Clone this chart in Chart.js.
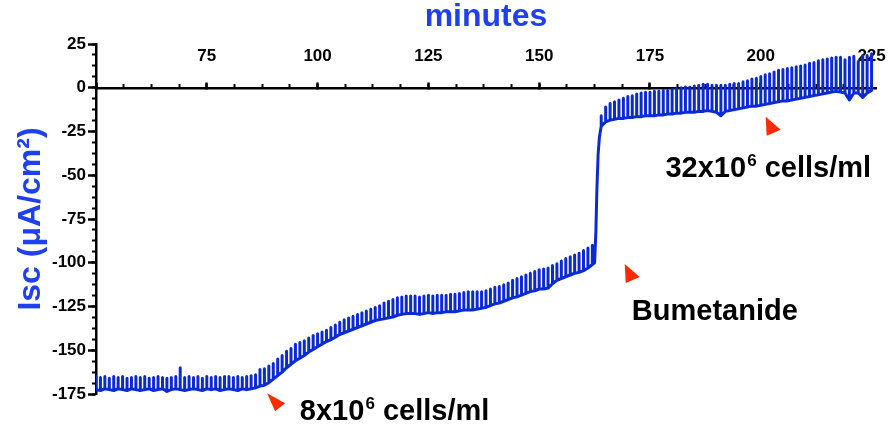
<!DOCTYPE html>
<html>
<head>
<meta charset="utf-8">
<script src="https://cdn.jsdelivr.net/npm/chart.js@4.4.0/dist/chart.umd.min.js"></script>
<style>
  html, body { margin: 0; padding: 0; background: #fff; }
  #wrap { width: 890px; height: 427px; }
</style>
</head>
<body>
<div id="wrap"><canvas id="iscChart"></canvas></div>
<script>
// one sample per minute: baseline current and top of the test pulse
const minutes = [
  50, 51, 52, 53, 54, 55, 56, 57, 58, 59,
  60, 61, 62, 63, 64, 65, 66, 67, 68, 69,
  70, 71, 72, 73, 74, 75, 76, 77, 78, 79,
  80, 81, 82, 83, 84, 85, 86, 87, 88, 89,
  90, 91, 92, 93, 94, 95, 96, 97, 98, 99,
  100, 101, 102, 103, 104, 105, 106, 107, 108, 109,
  110, 111, 112, 113, 114, 115, 116, 117, 118, 119,
  120, 121, 122, 123, 124, 125, 126, 127, 128, 129,
  130, 131, 132, 133, 134, 135, 136, 137, 138, 139,
  140, 141, 142, 143, 144, 145, 146, 147, 148, 149,
  150, 151, 152, 153, 154, 155, 156, 157, 158, 159,
  160, 161, 162, 163, 164, 165, 166, 167, 168, 169,
  170, 171, 172, 173, 174, 175, 176, 177, 178, 179,
  180, 181, 182, 183, 184, 185, 186, 187, 188, 189,
  190, 191, 192, 193, 194, 195, 196, 197, 198, 199,
  200, 201, 202, 203, 204, 205, 206, 207, 208, 209,
  210, 211, 212, 213, 214, 215, 216, 217, 218, 219,
  220, 221, 222, 223, 224, 225
];
const baseline = [
  -172.5, -173, -172, -172.5, -173, -172, -172.5, -173, -172, -172.5,
  -173, -172.5, -172, -173, -172.5, -172, -173.5, -172.5, -172, -172.5,
  -173, -172.5, -172, -172.5, -173, -172, -172.5, -172, -173, -172.5,
  -172, -172.5, -173, -172, -172.5, -172, -171.5, -170.5, -170, -168.5,
  -166.5, -164.5, -162.5, -160, -158, -156, -154.5, -153, -151, -149.5,
  -148, -146.5, -145, -144, -142.5, -141, -140, -139, -138, -137,
  -136, -135, -134, -133, -132.5, -132, -131.5, -131, -130, -129.5,
  -129, -129, -129, -129.5, -129, -128.5, -129, -128.5, -128.5, -128,
  -128, -128, -127.5, -127, -127, -127, -126.5, -126, -125.5, -124.5,
  -123.5, -123, -122, -121, -120, -119.5, -118.5, -117.5, -116.5, -116,
  -115, -115, -114.5, -112, -110, -109, -108, -107, -106, -105.5,
  -104.5, -103, -101, -60, -22, -19.5, -18.5, -18, -17.5, -17.5,
  -17, -17, -16.5, -16.5, -16, -16, -16, -15.5, -15.5, -15,
  -15, -14.5, -14.5, -14, -14, -14, -13.5, -13.5, -13, -13.5,
  -14, -16, -13.5, -13, -12.5, -12, -11.5, -11, -10.5, -10.5,
  -10, -9.5, -9, -8.5, -8, -7.5, -7.5, -7, -6.5, -6,
  -5.5, -5, -4.5, -4, -3.5, -3, -2.5, -2, -2.5, -3,
  -7, -3, -3, -5.5, -3, -1.5
];
const pulseTop = [
  -165, -165.5, -165, -166, -165, -165.5, -165, -166, -165.5, -165,
  -165.5, -165, -166, -165.5, -165, -165.5, -166, -165.5, -165, -160,
  -165.5, -165, -165.5, -165, -166, -165, -165.5, -165, -165.5, -165,
  -165, -165.5, -165, -165.5, -165, -164.5, -164, -161, -160.5, -159,
  -157.5, -155, -153, -150.5, -149, -146.5, -145.5, -144.5, -143, -141.5,
  -140.5, -139.5, -138.5, -137, -135.5, -134, -132.5, -131.5, -130.5, -129.5,
  -128.5, -127.5, -126.5, -125.5, -124.5, -123, -122, -121, -120, -119.5,
  -119, -119, -119, -119.5, -119, -118.5, -119, -118.5, -118.5, -118.5,
  -118, -118, -117.5, -117, -116.5, -116.5, -116.5, -116.5, -116, -115,
  -114, -113.5, -112.5, -111.5, -110, -109, -108, -107, -106, -105,
  -104, -103.5, -103, -101.5, -100.5, -99, -97.5, -96.5, -95.5, -94.5,
  -93, -91.5, -90, -60, -16, -11, -9, -8, -7, -6,
  -5, -4.5, -3.5, -3, -2.5, -2.5, -2, -2, -1.5, -1.5,
  -1, -0.5, 0, 0.5, 0.5, 1, 1.5, 2, 2, 1.5,
  1.5, 1.5, 1.5, 2, 2.5, 2.5, 3.5, 4, 5, 5.5,
  6.5, 7.5, 8, 9, 10, 10.5, 11, 11.5, 12, 12.5,
  13, 14, 14.5, 15.5, 16, 16.5, 17, 17.5, 17.5, 16,
  17.5, 18, 15, 18.5, 18.5, 19.5
];
// extra readings on the bumetanide step
const stepMinutes = [162.5, 162.8, 163.3, 163.6];
const stepValues = [-100, -82, -38, -28];

const xTickLabels = [75, 100, 125, 150, 175, 200, 225];
const yTickLabels = [25, 0, -25, -50, -75, -100, -125, -150, -175];

const FONT = '"Liberation Sans", Arial, Helvetica, sans-serif';
const TITLE_BLUE = '#1f3ff2';
const TRACE_BLUE = '#0a2bd2';
const MARK_RED = '#ff2a00';

// build the trace: baseline, up to the pulse top and back down
const trace = [];
minutes.forEach(function(m, i) {
    trace.push({x: m, y: baseline[i]});
    if (pulseTop[i] !== baseline[i]) {
        trace.push({x: m, y: pulseTop[i]});
        trace.push({x: m, y: baseline[i]});
    }
});
stepMinutes.forEach(function(m, i) {
    trace.push({x: m, y: stepValues[i]});
});
trace.sort(function(a, b) { return a.x - b.x; });

// arrows and labels, placed in data units
const notes = [
    {minute: 88.6, value: -174.5, shape: 'tilted', text: '8x10', sup: '6', tail: ' cells/ml', textMinute: 96, textValue: -190},
    {minute: 169.3, value: -100.7, shape: 'right', text: 'Bumetanide', sup: '', tail: '', textMinute: 170.9, textValue: -132.7},
    {minute: 201.1, value: -16.6, shape: 'right', text: '32x10', sup: '6', tail: ' cells/ml', textMinute: 178.5, textValue: -50.9}
];
const arrowShapes = {
    tilted: [[0, 0], [18, 10], [8, 18]],
    right: [[0, 0], [15, 13], [1, 19]]
};

const notesPlugin = {
    id: 'notes',
    afterDraw: function(chart) {
        const ctx = chart.ctx;
        const xs = chart.scales.x;
        const ys = chart.scales.y;
        ctx.save();
        notes.forEach(function(n) {
            const ax = xs.getPixelForValue(n.minute);
            const ay = ys.getPixelForValue(n.value);
            const pts = arrowShapes[n.shape];
            ctx.beginPath();
            ctx.moveTo(ax + pts[0][0], ay + pts[0][1]);
            for (let k = 1; k < pts.length; k++) {
                ctx.lineTo(ax + pts[k][0], ay + pts[k][1]);
            }
            ctx.closePath();
            ctx.fillStyle = MARK_RED;
            ctx.fill();

            let tx = xs.getPixelForValue(n.textMinute);
            const ty = ys.getPixelForValue(n.textValue);
            ctx.fillStyle = '#000';
            ctx.textBaseline = 'alphabetic';
            ctx.textAlign = 'left';
            ctx.font = 'bold 29px ' + FONT;
            ctx.fillText(n.text, tx, ty);
            tx += ctx.measureText(n.text).width;
            if (n.sup) {
                ctx.font = 'bold 17px ' + FONT;
                ctx.fillText(n.sup, tx + 1, ty - 11);
                tx += ctx.measureText(n.sup).width + 1;
            }
            if (n.tail) {
                ctx.font = 'bold 29px ' + FONT;
                ctx.fillText(n.tail, tx, ty);
            }
        });
        ctx.restore();
    }
};

const tickFont = {family: FONT, size: 17, weight: 'bold'};

new Chart(document.getElementById('iscChart'), {
    type: 'line',
    data: {
        datasets: [{
            data: trace,
            borderColor: TRACE_BLUE,
            borderWidth: 3,
            borderJoinStyle: 'round',
            pointRadius: 0,
            tension: 0,
            fill: false
        }]
    },
    options: {
        responsive: true,
        maintainAspectRatio: false,
        animation: false,
        layout: {padding: {left: 0, right: 14, top: 0, bottom: 33}},
        plugins: {
            legend: {display: false},
            tooltip: {enabled: false},
            title: {
                display: true,
                text: 'minutes',
                color: TITLE_BLUE,
                fullSize: false,
                font: {family: FONT, size: 32, weight: 'bold', lineHeight: 1},
                padding: {top: 1, bottom: 11}
            }
        },
        scales: {
            x: {
                type: 'linear',
                axis: 'x',
                position: {y: 0},
                min: 50,
                max: 226,
                ticks: {
                    stepSize: 25,
                    includeBounds: false,
                    mirror: true,
                    padding: -14,
                    color: '#000',
                    font: tickFont,
                    callback: function(v) { return xTickLabels.includes(v) ? String(v) : ''; }
                },
                grid: {drawOnChartArea: false, tickLength: -7, tickColor: '#000', tickWidth: 2.5},
                border: {color: '#000', width: 2.5}
            },
            xMinor: {
                type: 'linear',
                axis: 'x',
                position: {y: 0},
                min: 50,
                max: 226,
                ticks: {stepSize: 6.25, includeBounds: false, display: false},
                grid: {drawOnChartArea: false, tickLength: -4, tickColor: '#000', tickWidth: 2},
                border: {display: false}
            },
            y: {
                type: 'linear',
                position: 'left',
                min: -175,
                max: 25,
                afterFit: function(s) { s.width = 96; },
                ticks: {
                    stepSize: 25,
                    padding: 2,
                    color: '#000',
                    font: tickFont,
                    callback: function(v) { return yTickLabels.includes(v) ? String(v) : ''; }
                },
                grid: {drawOnChartArea: false, tickLength: 8, tickColor: '#000', tickWidth: 2.5},
                border: {color: '#000', width: 2.5},
                title: {
                    display: true,
                    text: 'Isc (\u03bcA/cm\u00b2)',
                    color: TITLE_BLUE,
                    font: {family: FONT, size: 32, weight: 'bold', lineHeight: 1},
                    padding: {top: 15, bottom: 0}
                }
            },
            yMinor: {
                type: 'linear',
                axis: 'y',
                position: {x: 50},
                min: -175,
                max: 25,
                ticks: {stepSize: 6.25, display: false},
                grid: {drawOnChartArea: false, tickLength: 4, tickColor: '#000', tickWidth: 2},
                border: {display: false}
            }
        }
    },
    plugins: [notesPlugin]
});
</script>
</body>
</html>
